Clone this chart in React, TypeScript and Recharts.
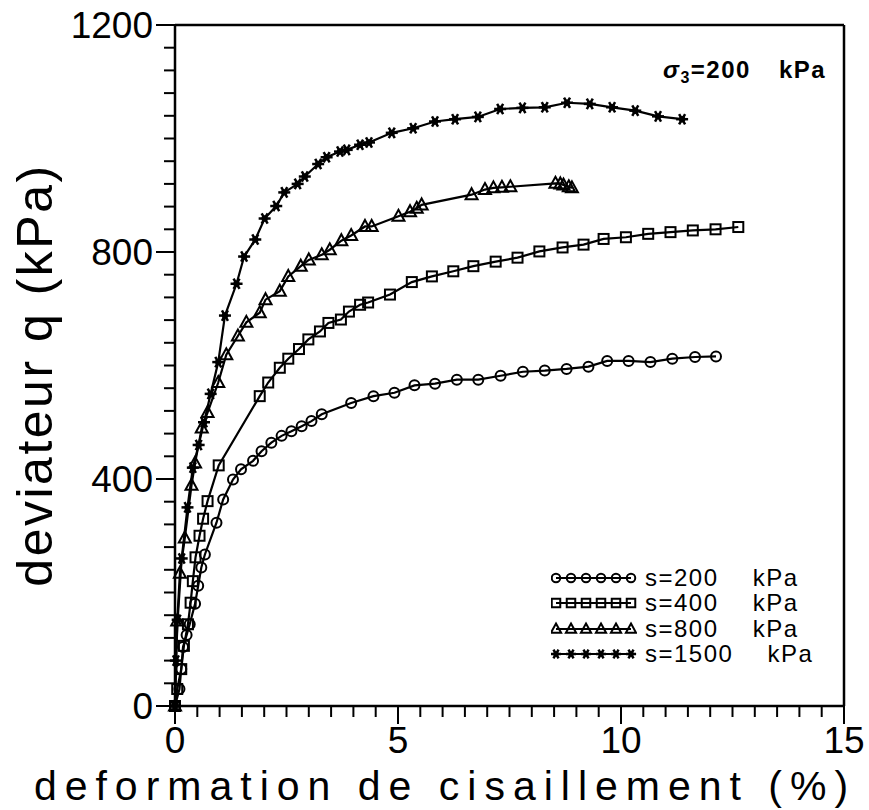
import React from 'react';
import { LineChart, Line, XAxis, YAxis, Legend, Customized } from 'recharts';

// s = 200 kPa (open circles)
const strain200 = [0, 0.1, 0.14, 0.18, 0.26, 0.33, 0.45, 0.52, 0.59, 0.67, 0.93, 1.08, 1.3, 1.48, 1.75, 1.94, 2.16, 2.39, 2.61, 2.84, 3.06, 3.29, 3.95, 4.45, 4.92, 5.37, 5.83, 6.32, 6.8, 7.3, 7.8, 8.29, 8.78, 9.27, 9.69, 10.17, 10.66, 11.15, 11.66, 12.13];
const q200 = [0, 30, 65, 104, 125, 144, 180, 212, 244, 267, 323, 364, 399, 417, 432, 449, 464, 476, 484, 493, 502, 514, 534, 546, 552, 565, 568, 575, 575, 582, 589, 591, 594, 598, 608, 608, 606, 612, 615, 616];

// s = 400 kPa (open squares)
const strain400 = [0, 0.05, 0.14, 0.2, 0.29, 0.35, 0.4, 0.46, 0.55, 0.63, 0.73, 0.98, 1.9, 2.09, 2.35, 2.54, 2.78, 2.99, 3.25, 3.44, 3.72, 3.9, 4.15, 4.33, 4.82, 5.31, 5.76, 6.24, 6.69, 7.19, 7.68, 8.17, 8.69, 9.16, 9.61, 10.11, 10.61, 11.11, 11.61, 12.12, 12.63];
const q400 = [0, 30, 65, 106, 144, 182, 220, 262, 300, 330, 361, 424, 546, 570, 596, 612, 629, 646, 660, 675, 681, 695, 707, 711, 725, 747, 757, 766, 775, 783, 790, 801, 808, 813, 823, 826, 832, 835, 838, 840, 844];

// s = 800 kPa (triangles)
const strain800 = [0, 0.05, 0.11, 0.22, 0.37, 0.45, 0.6, 0.73, 0.97, 1.15, 1.41, 1.6, 1.9, 2.03, 2.35, 2.54, 2.82, 3.0, 3.29, 3.47, 3.73, 3.95, 4.26, 4.41, 5.01, 5.27, 5.42, 5.53, 6.65, 6.95, 7.14, 7.33, 7.52, 8.53, 8.64, 8.71, 8.83, 8.9];
const q800 = [0, 150, 234, 296, 389, 428, 490, 517, 570, 619, 652, 676, 693, 716, 731, 757, 775, 786, 795, 804, 820, 829, 845, 845, 863, 871, 877, 883, 901, 910, 913, 914, 915, 921, 920, 918, 915, 913];

// s = 1500 kPa (stars)
const strain1500 = [0, 0.02, 0.06, 0.15, 0.28, 0.4, 0.53, 0.65, 0.8, 0.97, 1.12, 1.38, 1.55, 1.8, 2.01, 2.27, 2.45, 2.75, 2.91, 3.21, 3.4, 3.7, 3.85, 4.15, 4.35, 4.86, 5.34, 5.83, 6.28, 6.79, 7.29, 7.79, 8.29, 8.79, 9.3, 9.8, 10.32, 10.83, 11.37];
const q1500 = [0, 80, 152, 260, 350, 420, 460, 500, 550, 606, 688, 744, 792, 822, 859, 881, 905, 920, 933, 955, 967, 977, 980, 989, 993, 1010, 1018, 1030, 1034, 1038, 1052, 1054, 1055, 1063, 1061, 1055, 1049, 1039, 1034];

const xLabels = [0, 5, 10, 15];
const yLabels = [0, 400, 800, 1200];
// minor ticks every 0.5 % and every 40 kPa
const xTicks = Array.from({ length: 31 }, (_, i) => i * 0.5);
const yTicks = Array.from({ length: 31 }, (_, i) => i * 40);

const legendLabels = ['s=200 kPa', 's=400 kPa', 's=800 kPa', 's=1500 kPa'];

type Shape = 'circle' | 'square' | 'triangle' | 'star';
const shapes: Shape[] = ['circle', 'square', 'triangle', 'star'];

const FONT = '"Liberation Sans", Arial, sans-serif';

const toPoints = (strain: number[], q: number[]) => strain.map((s, i) => ({ strain: s, q: q[i] }));

const series = [
  toPoints(strain200, q200),
  toPoints(strain400, q400),
  toPoints(strain800, q800),
  toPoints(strain1500, q1500),
];

const Marker = ({ shape, cx, cy, k = 1 }: { shape: Shape; cx: number; cy: number; k?: number }) => {
  if (shape === 'circle') {
    return <circle cx={cx} cy={cy} r={5 * k} fill="none" stroke="#000" strokeWidth={2} />;
  }
  if (shape === 'square') {
    return <rect x={cx - 5 * k} y={cy - 5 * k} width={10 * k} height={10 * k} fill="none" stroke="#000" strokeWidth={2} />;
  }
  if (shape === 'triangle') {
    return (
      <polygon
        points={`${cx},${cy - 6.5 * k} ${cx + 6 * k},${cy + 4.5 * k} ${cx - 6 * k},${cy + 4.5 * k}`}
        fill="none"
        stroke="#000"
        strokeWidth={2}
      />
    );
  }
  const arms = [0, 60, 120].map((a) => {
    const r = (a * Math.PI) / 180;
    const dx = Math.cos(r) * 6 * k;
    const dy = Math.sin(r) * 6 * k;
    return <line key={a} x1={cx - dx} y1={cy - dy} x2={cx + dx} y2={cy + dy} stroke="#000" strokeWidth={2.5} />;
  });
  return (
    <g>
      {arms}
      <circle cx={cx} cy={cy} r={3.2 * k} fill="#000" />
    </g>
  );
};

const makeDot = (shape: Shape) => (props: any) => {
  const { cx, cy, index } = props;
  return <Marker key={`${shape}-${index}`} shape={shape} cx={cx} cy={cy} />;
};

const XTick = (props: any) => {
  const { x, y, payload } = props;
  const major = xLabels.includes(payload.value);
  return (
    <g>
      <line x1={x} y1={y} x2={x} y2={y + (major ? 18 : 11)} stroke="#000" strokeWidth={2} />
      {major && (
        <text x={x} y={y + 47} textAnchor="middle" fontSize={37} fontFamily={FONT} fill="#000">
          {payload.value}
        </text>
      )}
    </g>
  );
};

const YTick = (props: any) => {
  const { x, y, payload } = props;
  const major = yLabels.includes(payload.value);
  return (
    <g>
      <line x1={x} y1={y} x2={x - (major ? 19 : 11)} y2={y} stroke="#000" strokeWidth={2} />
      {major && (
        <text x={x - 22} y={y + 13} textAnchor="end" fontSize={37} fontFamily={FONT} fill="#000">
          {payload.value}
        </text>
      )}
    </g>
  );
};

const Titles = () => (
  <g fontFamily={FONT} fill="#000">
    <text x={445} y={800} textAnchor="middle" fontSize={41} letterSpacing={8}>
      deformation de cisaillement (%)
    </text>
    <text x={52} y={375} textAnchor="middle" fontSize={50} letterSpacing={2.5} transform="rotate(-90 52 375)">
      deviateur q (kPa)
    </text>
    <text x={663} y={78} fontSize={24} fontWeight="bold" letterSpacing={1.5}>
      <tspan fontStyle="italic">σ</tspan>
      <tspan fontSize={16} dy={5}>3</tspan>
      <tspan dy={-5}>=200</tspan>
      <tspan dx={28}>kPa</tspan>
    </text>
  </g>
);

const renderLegend = () => (
  <div style={{ fontFamily: FONT, fontSize: 24, color: '#000' }}>
    {legendLabels.map((label, i) => (
      <div key={label} style={{ display: 'flex', alignItems: 'center', height: 25.5 }}>
        <svg width={86} height={20}>
          <line x1={5} y1={10} x2={80} y2={10} stroke="#000" strokeWidth={2} />
          {[0, 1, 2, 3, 4, 5].map((k) => (
            <Marker key={k} shape={shapes[i]} cx={5 + k * 15} cy={10} k={0.85} />
          ))}
        </svg>
        <span style={{ marginLeft: 8, letterSpacing: 1.5, wordSpacing: 26, whiteSpace: 'nowrap' }}>{label}</span>
      </div>
    ))}
  </div>
);

export default function App() {
  return (
    <div style={{ position: 'absolute', left: 0, top: 0, background: '#fff' }}>
      <LineChart width={869} height={810} margin={{ top: 24, right: 24, bottom: 103, left: 174 }}>
        <XAxis
          dataKey="strain"
          type="number"
          domain={[0, 15]}
          ticks={xTicks}
          interval={0}
          height={1}
          tickSize={0}
          tickMargin={0}
          tick={XTick}
          axisLine={{ stroke: '#000', strokeWidth: 2.5 }}
        />
        <XAxis
          xAxisId="top"
          orientation="top"
          type="number"
          domain={[0, 15]}
          height={1}
          tick={false}
          tickLine={false}
          axisLine={{ stroke: '#000', strokeWidth: 2.5 }}
        />
        <YAxis
          type="number"
          domain={[0, 1200]}
          ticks={yTicks}
          interval={0}
          width={1}
          tickSize={0}
          tickMargin={0}
          tick={YTick}
          axisLine={{ stroke: '#000', strokeWidth: 2.5 }}
        />
        <YAxis
          yAxisId="right"
          orientation="right"
          type="number"
          domain={[0, 1200]}
          width={1}
          tick={false}
          tickLine={false}
          axisLine={{ stroke: '#000', strokeWidth: 2.5 }}
        />
        {series.map((pts, i) => (
          <Line
            key={legendLabels[i]}
            data={pts}
            dataKey="q"
            name={legendLabels[i]}
            type="linear"
            stroke="#000"
            strokeWidth={2.2}
            dot={makeDot(shapes[i])}
            activeDot={false}
            isAnimationActive={false}
          />
        ))}
        <Legend
          layout="vertical"
          align="center"
          verticalAlign="middle"
          content={renderLegend}
          wrapperStyle={{ left: 551, top: 565, width: 300 }}
        />
        <Customized component={Titles} />
      </LineChart>
    </div>
  );
}
